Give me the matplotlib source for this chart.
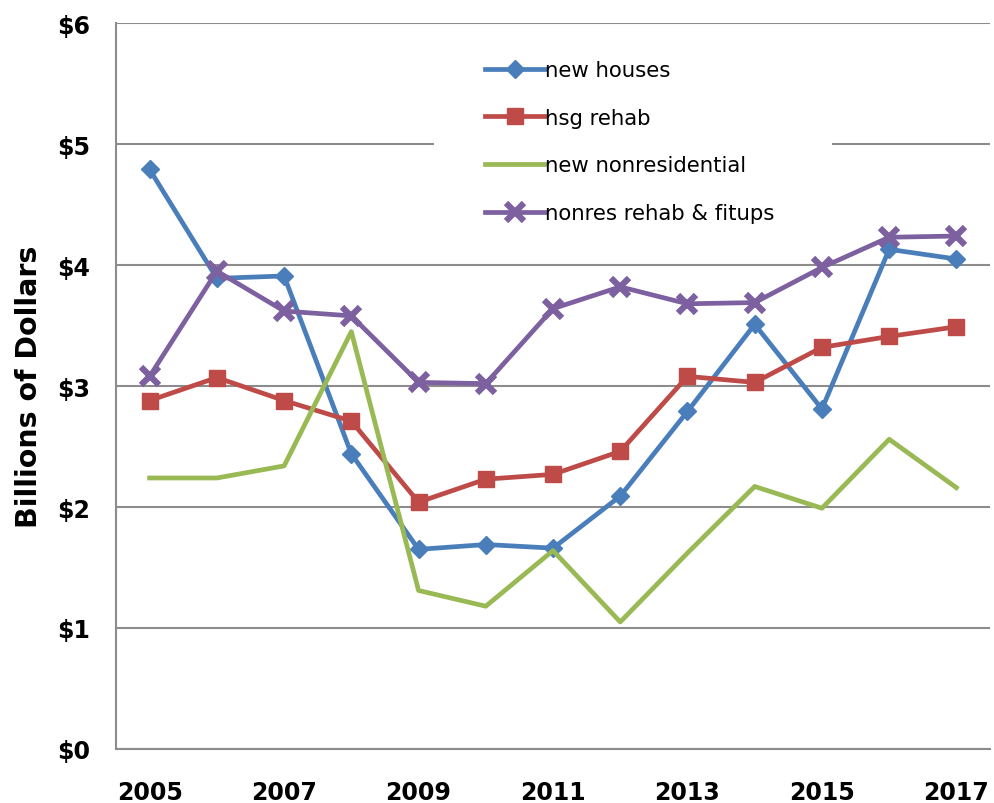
import matplotlib
matplotlib.use("Agg")
import matplotlib.pyplot as plt
import matplotlib.patches as patches
from matplotlib.ticker import FuncFormatter

years = list(range(2005, 2018))
new_houses = [4.79, 3.89, 3.91, 2.44, 1.65, 1.69, 1.66, 2.09, 2.79, 3.51, 2.81, 4.13, 4.05]
hsg_rehab = [2.88, 3.07, 2.88, 2.71, 2.04, 2.23, 2.27, 2.46, 3.08, 3.03, 3.32, 3.41, 3.49]
new_nonres = [2.24, 2.24, 2.34, 3.45, 1.31, 1.18, 1.64, 1.05, 1.62, 2.17, 1.99, 2.56, 2.16]
nonres_rehab = [3.08, 3.95, 3.62, 3.58, 3.03, 3.02, 3.64, 3.82, 3.68, 3.69, 3.98, 4.23, 4.24]

plt.rcParams['font.family'] = ['DejaVu Sans']

fig = plt.figure(figsize=(9.95, 8.04), dpi=100)
ax = fig.add_axes([0.1166, 0.0672, 0.8784, 0.9028])
ax.set_axisbelow(True)

lw = 3.4
ax.plot(years, new_houses, color='#4A7EBB', lw=lw, marker='D', ms=9.5,
        label='new houses', zorder=3)
ax.plot(years, hsg_rehab, color='#BE4B48', lw=lw, marker='s', ms=11,
        label='hsg rehab', zorder=3)
ax.plot(years, new_nonres, color='#98B954', lw=lw, label='new nonresidential',
        zorder=3)
ax.plot(years, nonres_rehab, color='#7D60A0', lw=lw, marker='x', ms=13,
        mew=4.5, label='nonres rehab & fitups', zorder=3)

ax.set_xlim(2004.5, 2017.5)
ax.set_ylim(0, 6)
ax.set_xticks(years[::2])
ax.set_yticks(range(0, 7))
ax.yaxis.set_major_formatter(FuncFormatter(lambda v, p: '$%d' % v))
ax.tick_params(axis='y', length=0, labelsize=17, pad=19)
ax.tick_params(axis='x', length=0, labelsize=17, pad=22)
for lab in ax.get_xticklabels() + ax.get_yticklabels():
    lab.set_fontweight('bold')

ax.grid(axis='y', color='#8C8C8C', lw=1.5)
for s in ['right', 'top']:
    ax.spines[s].set_visible(False)
for s in ['left', 'bottom']:
    ax.spines[s].set_color('#8C8C8C')
    ax.spines[s].set_linewidth(1.5)

ax.set_ylabel('Billions of Dollars', fontsize=20.5, fontweight='bold',
              labelpad=10)

# white legend area hiding the gridline behind it
ax.add_patch(patches.Rectangle((0.364, 0.709), 0.455, 0.265,
                               transform=ax.transAxes, facecolor='white',
                               edgecolor='none', zorder=1))

leg = ax.legend(loc='upper left', bbox_to_anchor=(0.422, 0.949),
                frameon=False, fontsize=15.3, handlelength=2.85,
                handletextpad=0.0, labelspacing=1.3, borderpad=0.0,
                borderaxespad=0.0)

fig.savefig('out.png', dpi=100)
